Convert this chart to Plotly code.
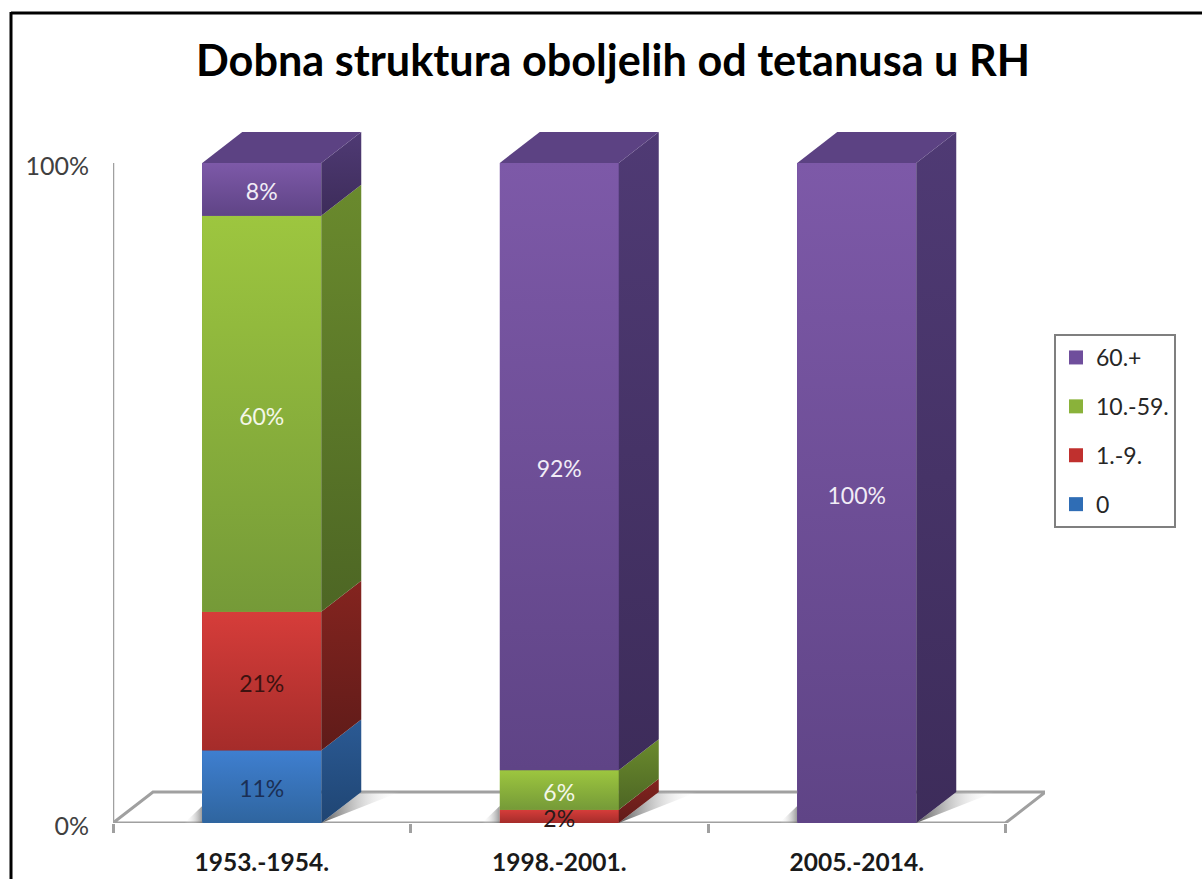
import plotly.graph_objects as go

# ---- data ----
categories = ["1953.-1954.", "1998.-2001.", "2005.-2014."]
series_names = ["0", "1.-9.", "10.-59.", "60.+"]
age_0 = [11, 0, 0]
age_1_9 = [21, 2, 0]
age_10_59 = [60, 6, 0]
age_60 = [8, 92, 100]
series_values = [age_0, age_1_9, age_10_59, age_60]
y_ticks = [0, 100]
y_tick_labels = ["0%", "100%"]

# ---- style ----
FONT = "Lato"
face_top = ["#3f7fd0", "#d63d3a", "#9dc63f", "#7d59a8"]
face_bot = ["#2f659f", "#a52c2a", "#759a38", "#5f4486"]
side_top = ["#2b5a94", "#84241f", "#6a8a2d", "#4f3a74"]
side_bot = ["#1f4573", "#5f1b19", "#4d6624", "#3d2c5a"]
top_face = "#5c4283"
legend_col = ["#2f6db5", "#c0302e", "#8ab23a", "#6f4e9c"]
label_col = ["#1b2f55", "#3d1210", "#f4f7e8", "#f1ecf6"]
label_over = {(1, 1): "#2a1a1a"}
GREY = "#a0a0a0"

# plot-area geometry in pixels
L, R, T, B = 113, 1045, 131, 823
PX_X = 297.5
PX_Y = 6.6
BAR_W = 0.4
DX = 40 / PX_X
DY = 31 / PX_Y
LABEL_DROP = 5 / PX_Y
X0, X1 = -0.5, (R - L) / PX_X - 0.5
Y1 = (B - T) / PX_Y
px = lambda p: (p - L) / (R - L)
py = lambda p: (B - p) / (B - T)

fig = go.Figure()

# floor
fig.add_trace(go.Scatter(
    x=[-0.5, -0.5 + DX, 2.5 + DX, 2.5, -0.5],
    y=[0, DY, DY, 0, 0],
    mode="lines", line=dict(color=GREY, width=3),
    showlegend=False, hoverinfo="skip"))
# value axis line
fig.add_trace(go.Scatter(
    x=[-0.5, -0.5], y=[0, 100], mode="lines",
    line=dict(color=GREY, width=2.5), showlegend=False, hoverinfo="skip"))

# shadows on the floor
for i in range(len(categories)):
    xr = i + BAR_W / 2
    xl = i - BAR_W / 2
    fig.add_trace(go.Scatter(
        x=[xr, xr + DX, xr + DX + 0.13, xr + 0.02, xr],
        y=[0, DY, DY, 0.4, 0],
        mode="lines", fill="toself", line=dict(width=0),
        fillgradient=dict(type="horizontal",
                          colorscale=[[0, "rgba(80,80,80,0.95)"], [1, "rgba(255,255,255,0)"]]),
        showlegend=False, hoverinfo="skip"))
    fig.add_trace(go.Scatter(
        x=[xl, xl, xl - 0.06, xl],
        y=[0, DY * 0.55, 0, 0],
        mode="lines", fill="toself", line=dict(width=0),
        fillgradient=dict(type="horizontal",
                          colorscale=[[0, "rgba(255,255,255,0)"], [1, "rgba(110,110,110,0.7)"]]),
        showlegend=False, hoverinfo="skip"))

# front faces
for s, (name, vals) in enumerate(zip(series_names, series_values)):
    fig.add_trace(go.Bar(
        x=list(range(len(categories))), y=vals, width=BAR_W,
        marker=dict(color=legend_col[s], line=dict(width=0)),
        name=name, showlegend=False, hoverinfo="skip"))

# 3D depth and gradients, all computed from the stacked values
for c in range(len(categories)):
    base = 0
    for s, vals in enumerate(series_values):
        v = vals[c]
        if v == 0:
            continue
        xl, xr = c - BAR_W / 2, c + BAR_W / 2
        top = base + v
        fig.add_trace(go.Scatter(
            x=[xl, xr, xr, xl, xl], y=[base, base, top, top, base],
            mode="lines", fill="toself", line=dict(width=0),
            fillgradient=dict(type="vertical",
                              colorscale=[[0, face_bot[s]], [1, face_top[s]]]),
            showlegend=False, hoverinfo="skip"))
        fig.add_trace(go.Scatter(
            x=[xr, xr + DX, xr + DX, xr, xr],
            y=[base, base + DY, top + DY, top, base],
            mode="lines", fill="toself", line=dict(width=0),
            fillgradient=dict(type="vertical",
                              colorscale=[[0, side_bot[s]], [1, side_top[s]]]),
            showlegend=False, hoverinfo="skip"))
        base = top
    xl, xr = c - BAR_W / 2, c + BAR_W / 2
    fig.add_trace(go.Scatter(
        x=[xl, xr, xr + DX, xl + DX, xl],
        y=[base, base, base + DY, base + DY, base],
        mode="lines", fill="toself", fillcolor=top_face, line=dict(width=0),
        showlegend=False, hoverinfo="skip"))

# value labels
for s, vals in enumerate(series_values):
    bases = [sum(series_values[k][c] for k in range(s)) for c in range(len(categories))]
    xs, ys, ts, cs = [], [], [], []
    for c, v in enumerate(vals):
        if v:
            xs.append(c)
            ys.append(bases[c] + v / 2 - LABEL_DROP)
            ts.append(f"{v}%")
            cs.append(label_over.get((s, c), label_col[s]))
    fig.add_trace(go.Scatter(
        x=xs, y=ys, text=ts, mode="text", textposition="middle center",
        textfont=dict(family=FONT, size=23, color=cs), cliponaxis=False,
        showlegend=False, hoverinfo="skip"))

# legend entries
for s in reversed(range(len(series_names))):
    fig.add_trace(go.Scatter(
        x=[None], y=[None], mode="markers", name=series_names[s],
        legendgroup=series_names[s],
        marker=dict(symbol="square", size=14, color=legend_col[s])))

fig.update_layout(
    width=1202, height=879, autosize=False,
    margin=dict(l=L, r=1202 - R, t=T, b=879 - B, autoexpand=False),
    paper_bgcolor="white", plot_bgcolor="rgba(0,0,0,0)",
    barmode="stack",
    title=dict(text="<b>Dobna struktura oboljelih od tetanusa u RH</b>",
               x=613 / 1202, xanchor="center", y=1 - 61 / 879, yanchor="middle",
               font=dict(family=FONT, size=43.2, color="#000000")),
    xaxis=dict(range=[X0, X1], tickmode="array", automargin=False,
               tickvals=list(range(len(categories))), ticktext=[f"<b>{c}</b>" for c in categories],
               ticks="outside", ticklen=18, tickcolor="rgba(0,0,0,0)",
               tickfont=dict(family=FONT, size=24.5, color="#1a1a1a"),
               showgrid=False, zeroline=False, showline=False,
               minor=dict(tickmode="array", tickvals=[-0.5, 0.5, 1.5, 2.5], ticks="outside",
                          ticklen=9, tickcolor=GREY, tickwidth=2.5, showgrid=False)),
    yaxis=dict(range=[0, Y1], tickmode="array", tickvals=y_ticks, ticktext=y_tick_labels,
               ticks="outside", ticklen=18, tickcolor="rgba(0,0,0,0)", automargin=False,
               ticklabelshift=3,
               tickfont=dict(family=FONT, size=25, color="#404040"),
               showgrid=False, zeroline=False, showline=False),
    legend=dict(x=px(1054), xref="paper", y=py(334), yref="paper",
                xanchor="left", yanchor="top",
                bordercolor="#7f7f7f", borderwidth=2, bgcolor="white",
                font=dict(family=FONT, size=23, color="#262626"),
                traceorder="grouped", tracegroupgap=16),
    shapes=[
        dict(type="line", xref="paper", yref="paper", x0=px(11), x1=px(1202), y0=py(13), y1=py(13),
             line=dict(color="black", width=3)),
        dict(type="line", xref="paper", yref="paper", x0=px(11), x1=px(11), y0=py(12), y1=py(879),
             line=dict(color="black", width=3)),
    ],
)

fig.write_html("out.html", config=dict(displayModeBar=False),
               post_script="document.body.style.margin='0';")
